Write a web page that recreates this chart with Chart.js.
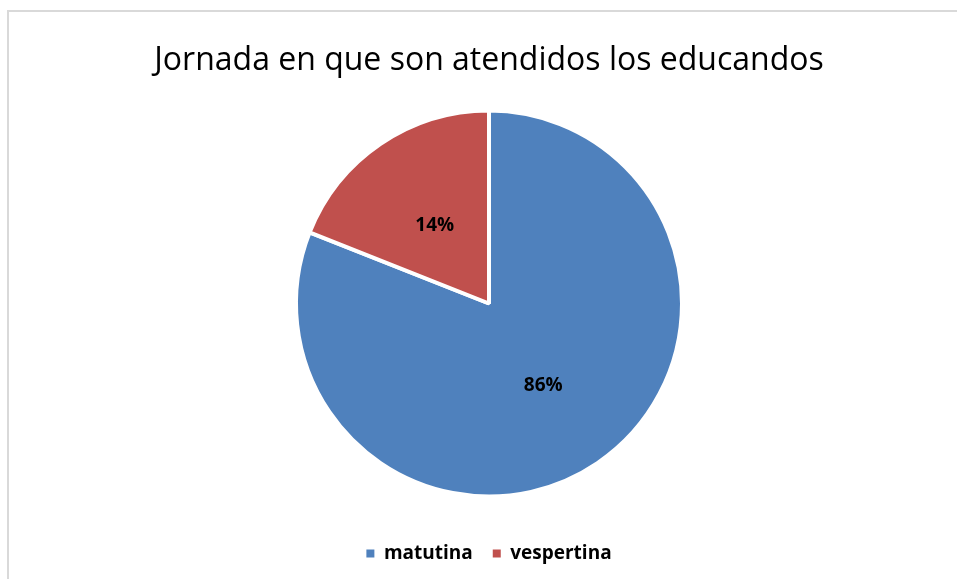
<!DOCTYPE html>
<html>
<head>
<meta charset="utf-8">
<script src="https://cdn.jsdelivr.net/npm/chart.js@4.4.0/dist/chart.umd.min.js"></script>
<style>
  html, body { margin: 0; padding: 0; background: #fff; }
  #wrap { position: relative; width: 957px; height: 579px; overflow: hidden; }
  #frame { position: absolute; left: 7px; top: 10px; width: 1000px; height: 700px;
           border: 2px solid #d9d9d9; }
  #myChart { position: absolute; left: 0; top: 0; }
</style>
</head>
<body>
<div id="wrap">
  <div id="frame"></div>
  <canvas id="myChart" width="957" height="579"></canvas>
</div>
<script>
var chartTitle = 'Jornada en que son atendidos los educandos';
var categories = ['matutina', 'vespertina'];
// slice sizes as drawn in the picture
var values = [81, 19];
// percentages as printed on the slices
var pctLabels = ['86%', '14%'];
var colors = ['#4F81BD', '#C0504D'];

// writes the printed percentage on each slice
var sliceLabels = {
    id: 'sliceLabels',
    afterDatasetsDraw: function(chart) {
        var ctx = chart.ctx;
        var meta = chart.getDatasetMeta(0);
        ctx.save();
        ctx.font = 'bold 19px "Open Sans"';
        ctx.fillStyle = '#000';
        ctx.textAlign = 'center';
        ctx.textBaseline = 'middle';
        meta.data.forEach(function(arc, i) {
            var p = arc.getCenterPoint();
            ctx.fillText(pctLabels[i], p.x, p.y + 2);
        });
        ctx.restore();
    }
};

var ctx = document.getElementById('myChart').getContext('2d');
var chart = new Chart(ctx, {
    type: 'pie',
    data: {
        labels: categories,
        datasets: [{
            data: values,
            backgroundColor: colors,
            borderColor: '#fff',
            borderWidth: 4
        }]
    },
    options: {
        responsive: false,
        animation: false,
        radius: 193,
        layout: { padding: { left: 21, right: 0, top: 0, bottom: 6 } },
        plugins: {
            title: {
                display: true,
                text: chartTitle,
                color: '#000',
                font: { family: 'Open Sans', size: 32, weight: 'normal', lineHeight: 1 },
                padding: { top: 45, bottom: 6 }
            },
            legend: {
                position: 'bottom',
                labels: {
                    color: '#000',
                    font: { family: 'Open Sans', size: 19, weight: 'bold' },
                    boxWidth: 8,
                    boxHeight: 8,
                    padding: 20,
                    generateLabels: function(chart) {
                        var items = Chart.PieController.overrides.plugins.legend.labels.generateLabels(chart);
                        items.forEach(function(it) {
                            it.lineWidth = 0;
                            it.strokeStyle = it.fillStyle;
                        });
                        return items;
                    }
                }
            },
            tooltip: { enabled: false }
        }
    },
    plugins: [sliceLabels]
});
</script>
</body>
</html>
